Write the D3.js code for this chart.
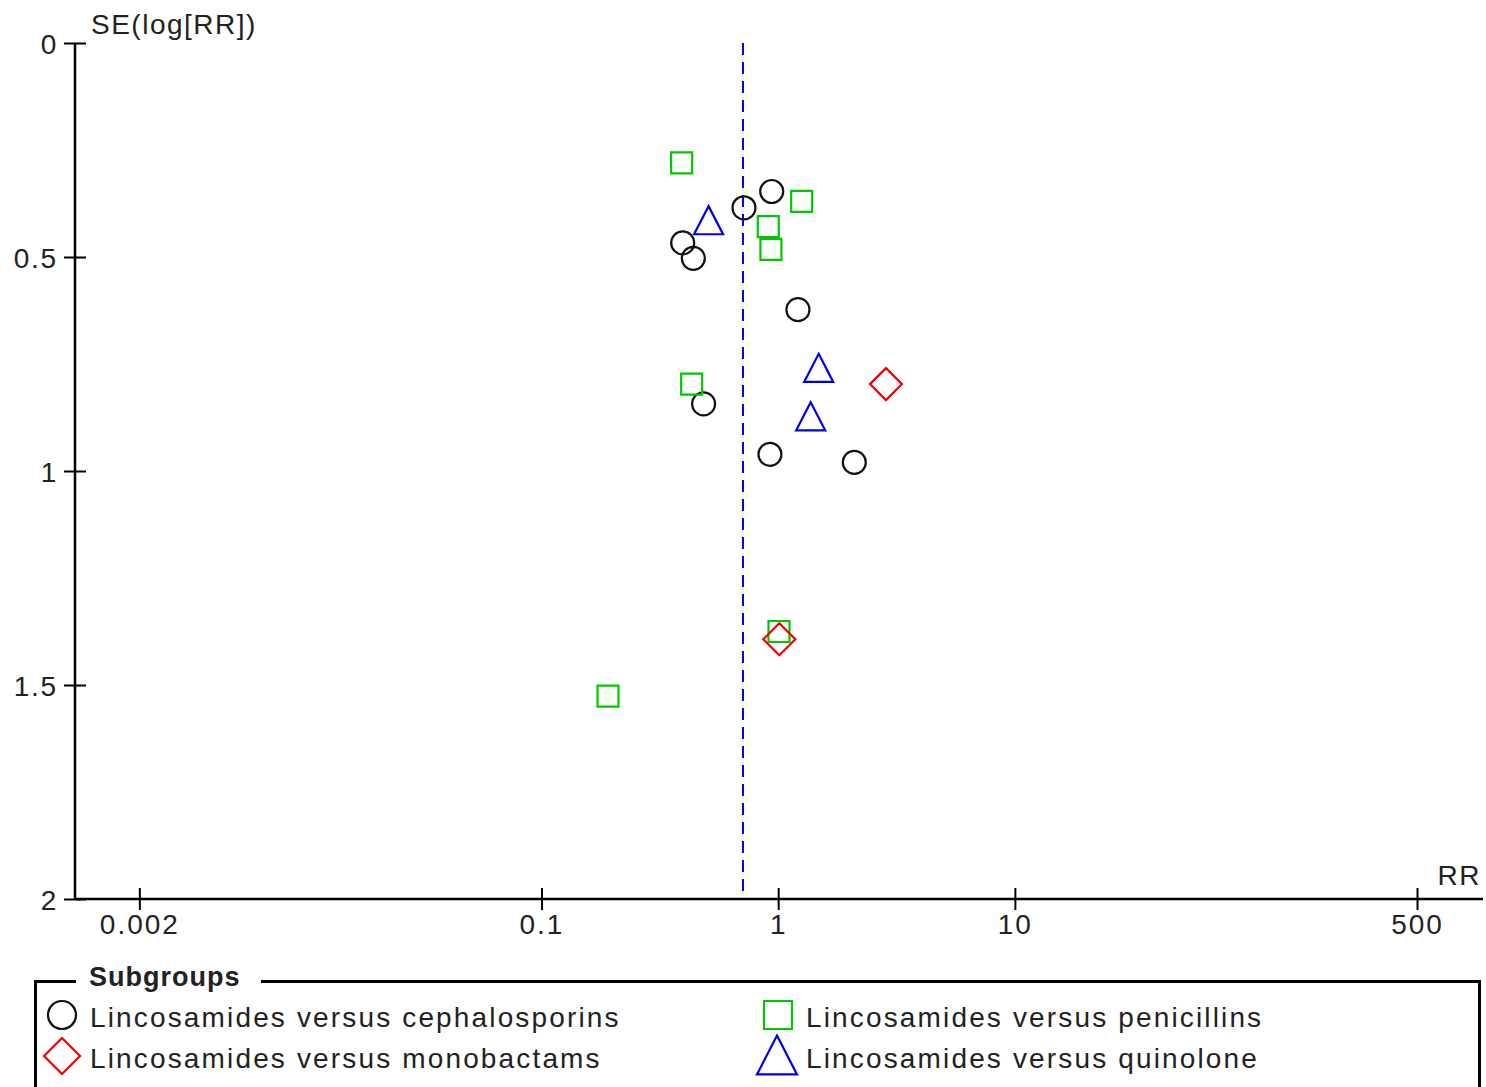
<!DOCTYPE html>
<html>
<head>
<meta charset="utf-8">
<script src="https://cdn.jsdelivr.net/npm/d3@7"></script>
<style>
  html, body { margin: 0; padding: 0; background: #fff; }
  svg { display: block; }
  text { font-family: "Liberation Sans", Arial, sans-serif; fill: #222; }
</style>
</head>
<body>
<svg id="chart" width="1486" height="1087"></svg>
<script>
// ---- data ----
const categories = [
  "Lincosamides versus cephalosporins",
  "Lincosamides versus penicillins",
  "Lincosamides versus monobactams",
  "Lincosamides versus quinolone"
];
const cephalosporinsRR = [0.939, 0.717, 0.395, 0.438, 1.212, 0.484, 0.923, 2.097];
const cephalosporinsSE = [0.347, 0.385, 0.467, 0.503, 0.623, 0.843, 0.961, 0.980];
const penicillinsRR = [0.391, 1.257, 0.908, 0.932, 0.431, 1.008, 0.191];
const penicillinsSE = [0.280, 0.370, 0.429, 0.482, 0.797, 1.375, 1.526];
const monobactamsRR = [2.854, 1.011];
const monobactamsSE = [0.797, 1.393];
const quinoloneRR = [0.508, 1.483, 1.372];
const quinoloneSE = [0.414, 0.759, 0.872];
const pooledRR = 0.710;
const xTicks = [0.002, 0.1, 1, 10, 500];
const xTickLabels = ["0.002", "0.1", "1", "10", "500"];
const yTicks = [0, 0.5, 1, 1.5, 2];
const yTickLabels = ["0", "0.5", "1", "1.5", "2"];
const xDomain = [0.00108, 950];
const yDomain = [0, 2];

// ---- styles ----
const colors = ["#111111", "#00c800", "#f00000", "#0000e6"];
const shapes = ["circle", "square", "diamond", "triangle"];

const svg = d3.select("#chart");
const pLeft = 76, pRight = 1483, pTop = 43, pBottom = 899;

const x = d3.scaleLog().domain(xDomain).range([pLeft, pRight]);
const y = d3.scaleLinear().domain(yDomain).range([pTop, pBottom]);

// custom symbol types: size = full width
const symbolTypes = {
  circle: { draw(ctx, s) { const r = s / 2; ctx.moveTo(r, 0); ctx.arc(0, 0, r, 0, 2 * Math.PI); } },
  square: { draw(ctx, s) { const h = s / 2; ctx.rect(-h, -h, s, s); } },
  diamond: { draw(ctx, s) { const h = s / 2; ctx.moveTo(0, -h); ctx.lineTo(h, 0); ctx.lineTo(0, h); ctx.lineTo(-h, 0); ctx.closePath(); } },
  triangle: { draw(ctx, s) { const w = s / 2, hh = s * 0.97 / 2; ctx.moveTo(0, -hh); ctx.lineTo(w, hh); ctx.lineTo(-w, hh); ctx.closePath(); } }
};
const plotSizes = { circle: 23, square: 21, diamond: 32, triangle: 29 };
const legendSizes = { circle: 28, square: 28, diamond: 36, triangle: 40 };

// ---- axes ----
const xAxis = d3.axisBottom(x).tickValues(xTicks).tickFormat((d, i) => xTickLabels[i]).tickSizeOuter(0).tickSizeInner(11);
const gx = svg.append("g").attr("transform", `translate(0,${pBottom})`).call(xAxis);
gx.select(".domain").attr("d", `M${pLeft},0H${pRight}`);
gx.selectAll(".tick line").attr("y1", -11).attr("y2", 11).attr("stroke", "#000").attr("stroke-width", 2);
gx.selectAll(".tick text").attr("y", 35).attr("dy", null)
  .style("font-size", "28px").style("letter-spacing", "2px").attr("fill", "#222");

const yAxis = d3.axisLeft(y).tickValues(yTicks).tickFormat((d, i) => yTickLabels[i]).tickSizeOuter(0).tickSizeInner(11);
const gy = svg.append("g").attr("transform", `translate(${pLeft - 1},0)`).call(yAxis);
gy.select(".domain").attr("d", `M0,${pTop}V${pBottom}`);
gy.selectAll(".tick line").attr("x1", -11).attr("x2", 11).attr("stroke", "#000").attr("stroke-width", 2);
gy.selectAll(".tick text").attr("x", -17).attr("dy", "0.36em")
  .style("font-size", "28px").style("letter-spacing", "1.8px").attr("fill", "#222");
svg.selectAll(".domain").attr("stroke", "#000").attr("stroke-width", 2.5);
svg.selectAll("g").attr("font-family", null).attr("font-size", null);

// axis titles
svg.append("text").attr("x", 91).attr("y", 34).style("font-size", "28px").style("letter-spacing", "1.5px").text("SE(log[RR])");
svg.append("text").attr("x", 1481).attr("y", 885).attr("text-anchor", "end").style("font-size", "28px").style("letter-spacing", "1.5px").text("RR");

// pooled estimate line
svg.append("line")
  .attr("x1", x(pooledRR)).attr("x2", x(pooledRR))
  .attr("y1", y(0)).attr("y2", y(2) - 8)
  .attr("stroke", "#0000e6").attr("stroke-width", 2).attr("stroke-dasharray", "12,7");

// ---- markers ----
const series = [
  { rr: cephalosporinsRR, se: cephalosporinsSE, k: 0 },
  { rr: penicillinsRR, se: penicillinsSE, k: 1 },
  { rr: monobactamsRR, se: monobactamsSE, k: 2 },
  { rr: quinoloneRR, se: quinoloneSE, k: 3 }
];
series.forEach(s => {
  const shape = shapes[s.k];
  const sym = d3.symbol().type(symbolTypes[shape]).size(plotSizes[shape]);
  svg.append("g").selectAll("path")
    .data(s.rr.map((v, i) => ({ rr: v, se: s.se[i] })))
    .join("path")
    .attr("d", sym)
    .attr("transform", d => `translate(${x(d.rr)},${y(d.se)})`)
    .attr("fill", "none")
    .attr("stroke", colors[s.k])
    .attr("stroke-width", 2.2);
});

// ---- legend ----
const lg = svg.append("g");
lg.append("path").attr("d", "M76,981.5H35.5V1100").attr("fill", "none").attr("stroke", "#000").attr("stroke-width", 3);
lg.append("path").attr("d", "M261,981.5H1479.5V1100").attr("fill", "none").attr("stroke", "#000").attr("stroke-width", 3);
lg.append("text").attr("x", 89).attr("y", 986).style("font-size", "27px").style("font-weight", "bold").style("letter-spacing", "1px").attr("fill", "#333").text("Subgroups");

const legendItems = [
  { k: 0, cx: 62, cy: 1015, tx: 90, ty: 1027 },
  { k: 1, cx: 778, cy: 1015, tx: 806, ty: 1027 },
  { k: 2, cx: 62, cy: 1056, tx: 90, ty: 1068 },
  { k: 3, cx: 777, cy: 1055, tx: 806, ty: 1068 }
];
legendItems.forEach(it => {
  const shape = shapes[it.k];
  lg.append("path")
    .attr("d", d3.symbol().type(symbolTypes[shape]).size(legendSizes[shape]))
    .attr("transform", `translate(${it.cx},${it.cy})`)
    .attr("fill", "none").attr("stroke", colors[it.k]).attr("stroke-width", 2.2);
  lg.append("text").attr("x", it.tx).attr("y", it.ty)
    .style("font-size", "28px").style("letter-spacing", "2.15px").attr("fill", "#333")
    .text(categories[it.k]);
});
</script>
</body>
</html>
